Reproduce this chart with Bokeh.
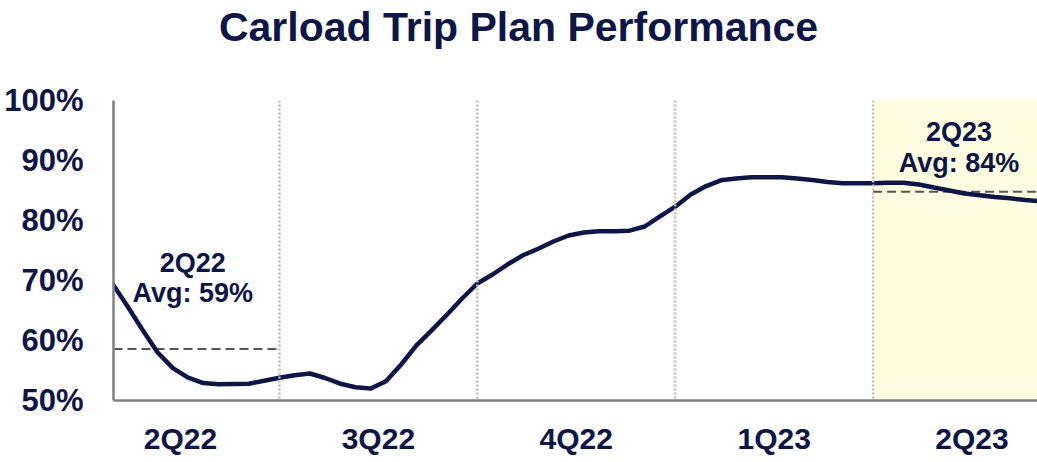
from bokeh.plotting import figure
from bokeh.models import Range1d, FixedTicker, Span, BoxAnnotation, Label, Div
from bokeh.layouts import column
from bokeh.embed import file_html
from bokeh.resources import INLINE

NAVY = "#0E1547"
FONT = "Liberation Sans"

# weekly trip plan performance (%), week 0 = start of 2Q22
weeks = list(range(2, 64))
values = [69.6, 65.8, 61.8, 58.0, 55.4, 53.8, 52.9, 52.7, 52.75, 52.8, 53.3, 53.8,
          54.2, 54.5, 53.75, 52.8, 52.2, 52.0, 53.2, 56.0, 59.2, 61.7, 64.3, 67.0,
          69.5, 71.0, 72.7, 74.2, 75.3, 76.5, 77.5, 78.0, 78.2, 78.2, 78.3, 79.0,
          80.7, 82.3, 84.3, 85.7, 86.7, 87.0, 87.2, 87.2, 87.2, 87.0, 86.75, 86.4,
          86.2, 86.2, 86.2, 86.3, 86.3, 86.0, 85.5, 85.0, 84.5, 84.2, 83.9, 83.7,
          83.4, 83.2]

quarters = ["2Q22", "3Q22", "4Q22", "1Q23", "2Q23"]
quarter_centers = [6.5, 19.5, 32.5, 45.5, 58.5]
quarter_bounds = [13, 26, 39, 52]

avg_2q22 = 58.6
avg_2q23 = 84.8
avg_2q22_label = "59%"
avg_2q23_label = "84%"

y_ticks = [50, 60, 70, 80, 90, 100]

title_text = "Carload Trip Plan Performance"

x_start, x_end = 2.1, 62.8

TITLE_H = 54

title_div = Div(text=title_text, width=1037, height=TITLE_H, margin=0,
                styles={"font-family": FONT, "font-size": "41px", "font-weight": "bold",
                        "color": NAVY, "text-align": "center",
                        "line-height": f"{TITLE_H}px", "width": "1037px"})

p = figure(width=1037, height=462 - TITLE_H, output_backend="svg", toolbar_location=None,
           x_range=Range1d(x_start, x_end), y_range=Range1d(50, 100),
           min_border_left=113, min_border_right=0, min_border_top=100 - TITLE_H,
           min_border_bottom=62, margin=0)

p.outline_line_color = None
p.grid.visible = False
p.background_fill_color = "white"

# shaded current quarter
p.add_layout(BoxAnnotation(left=quarter_bounds[-1], fill_color="#FFFDE0",
                           fill_alpha=1.0, line_color=None, level="underlay"))

for b in quarter_bounds:
    p.add_layout(Span(location=b, dimension="height", line_color="#BDBDBD",
                      line_width=2.5, line_dash="2 2"))

# averages
p.line([x_start, quarter_bounds[0]], [avg_2q22, avg_2q22], line_color="#555555",
       line_width=2, line_dash="9 5")
p.line([quarter_bounds[-1], x_end], [avg_2q23, avg_2q23], line_color="#555555",
       line_width=2, line_dash="9 5")

p.line(weeks, values, line_color=NAVY, line_width=4.5, line_join="round")

def lab(x, y, t):
    p.add_layout(Label(x=x, y=y, text=t, text_font=FONT, text_font_size="27px",
                       text_font_style="bold", text_color=NAVY, text_align="center",
                       text_baseline="middle"))

lab(7.3, 72.9, quarters[0])
lab(7.3, 67.9, "Avg: " + avg_2q22_label)
lab(57.65, 94.8, quarters[-1])
lab(57.65, 89.6, "Avg: " + avg_2q23_label)

# axes
p.yaxis.ticker = FixedTicker(ticks=y_ticks)
p.yaxis.major_label_overrides = {t: f"{t}%" for t in y_ticks}
p.xaxis.ticker = FixedTicker(ticks=quarter_centers)
p.xaxis.major_label_overrides = {c: q for c, q in zip(quarter_centers, quarters)}
for ax in (p.xaxis, p.yaxis):
    ax.axis_line_color = "#808080"
    ax.axis_line_width = 2.5
    ax.major_tick_line_color = None
    ax.minor_tick_line_color = None
    ax.major_label_text_font = FONT
    ax.major_label_text_font_style = "bold"
    ax.major_label_text_color = NAVY
p.yaxis.major_label_text_font_size = "31px"
p.xaxis.major_label_text_font_size = "30px"
p.yaxis.major_label_standoff = 24
p.xaxis.major_label_standoff = 15

layout = column(title_div, p, spacing=0, margin=0)

open("out.html", "w").write(file_html(layout, INLINE))
